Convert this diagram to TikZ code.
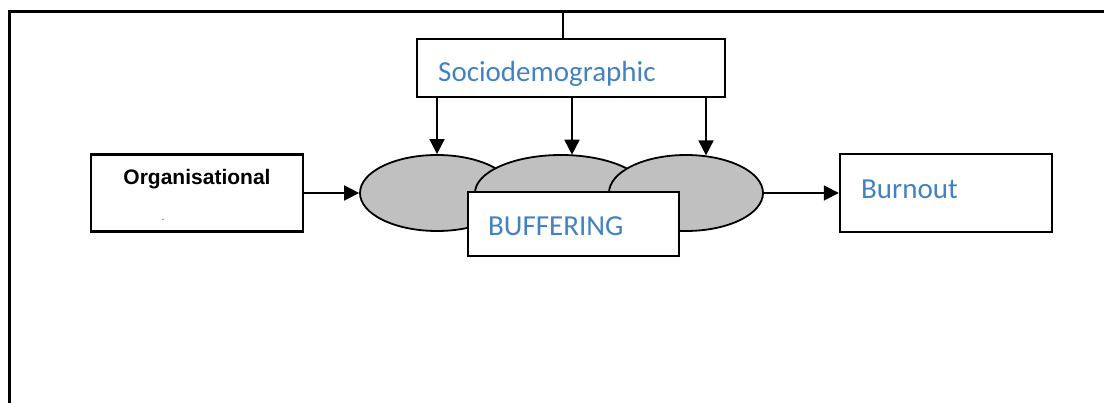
\documentclass[tikz,border=0pt]{standalone}
\usepackage{fontspec}
\setmainfont{Carlito}
\newfontfamily\arialfont{Liberation Sans}
\usetikzlibrary{arrows.meta,shapes.geometric,calc}
\definecolor{labelblue}{RGB}{66,130,196}
\definecolor{buffgray}{RGB}{192,192,192}
\tikzset{
  framebar/.style={line width=3pt},
  boxnode/.style={draw=black,line width=2.4pt,fill=white,inner sep=0pt},
  bufell/.style={ellipse,draw=black,line width=1.8pt,fill=buffgray,inner sep=0pt},
  flow/.style={line width=1.8pt,-{Triangle[length=15pt,width=15pt]}},
  bluetext/.style={text=labelblue,font=\fontsize{29}{34}\selectfont,inner sep=0pt,anchor=base west},
  orgtext/.style={font=\arialfont\bfseries\fontsize{21}{25}\selectfont,inner sep=0pt,anchor=base}
}
\begin{document}
\begin{tikzpicture}[x=1pt,y=-1pt]
\useasboundingbox (0,0) rectangle (1104,403);

% outer frame: left and top edges
\coordinate (fbot) at (9,403);
\coordinate (fcorner) at (9,12);
\coordinate (fright) at (1104,12);
\coordinate (ftop) at (563,12);
\draw[framebar] (fbot) -- (fcorner) -- (fright);

% Sociodemographic factors
\node[boxnode,minimum width=308,minimum height=58] (socio) at (571,68) {};
\node[bluetext] (sociotext) at (438,82) {Sociodemographic};
\draw[line width=2.8pt] (ftop) -- (ftop |- socio.north);

% Organisational factors
\node[boxnode,minimum width=212,minimum height=77] (org) at (197,193) {};
\node[orgtext] (orgtext) at (197,185) {Organisational};
\node[font=\arialfont\fontsize{7}{8}\selectfont,inner sep=0pt] (orgdash) at (163,220) {-};

% buffering factors
\node[bufell,minimum width=154,minimum height=76] (e1) at (437,193) {};
\node[bufell,minimum width=172,minimum height=76] (e2) at (561,193) {};
\node[bufell,minimum width=154,minimum height=76] (e3) at (686,193) {};
\node[boxnode,minimum width=211,minimum height=64] (buff) at (573.5,224) {};
\node[bluetext] (bufftext) at (488,236) {BUFFERING};

% outcome
\node[boxnode,minimum width=212,minimum height=78] (burn) at (946,193) {};
\node[bluetext] (burntext) at (861,199) {Burnout};

% connectors
\draw[flow] (org.east) -- (e1.west);
\draw[flow] (e3.east) -- (burn.west);
\draw[flow] (socio.south -| e1.north) -- (e1.north);
\draw[flow] ($(socio.south -| e2.north)+(11,0)$) -- ($(e2.north)+(11,0.6)$);
\draw[flow] ($(socio.south -| e3.north)+(20,0)$) -- ($(e3.north)+(20,1.3)$);
\end{tikzpicture}
\end{document}
